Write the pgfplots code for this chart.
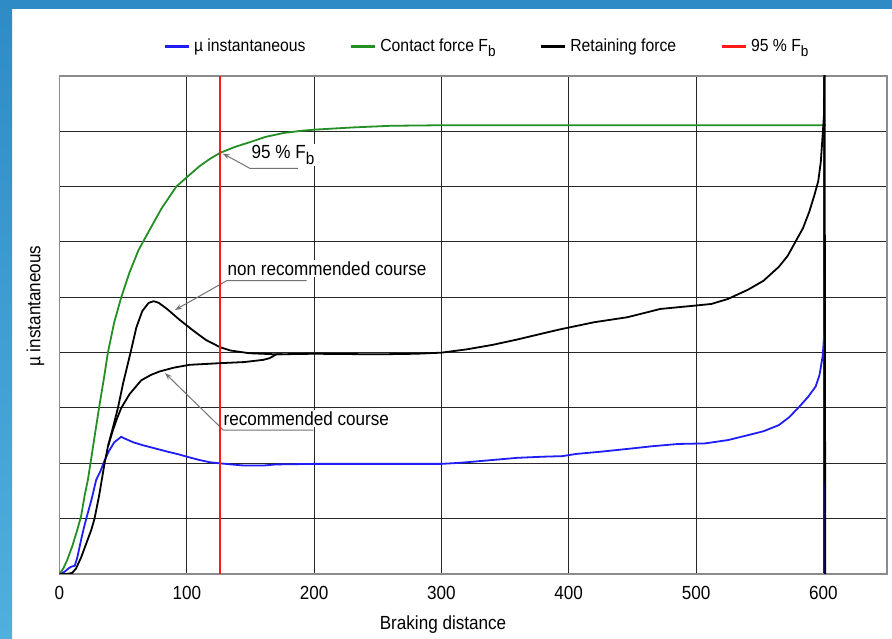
\documentclass[border=0pt]{standalone}
\usepackage{fontspec}
\setmainfont{Liberation Sans}[FakeStretch=0.9]
\usepackage{pgfplots}
\pgfplotsset{compat=1.18}
\usetikzlibrary{arrows.meta}

\definecolor{slideblue}{HTML}{2E8BC6}
\definecolor{slideblue2}{HTML}{4FB0DE}
\definecolor{cblue}{HTML}{1F1FF5}
\definecolor{cgreen}{HTML}{248F24}
\definecolor{cred}{HTML}{FF1A1A}

\begin{document}
\begin{tikzpicture}
\fill[white] (0,0) rectangle (892pt,639pt);
\shade[top color=slideblue, bottom color=slideblue2] (0,0) rectangle (12pt,639pt);
\fill[slideblue] (0,630pt) rectangle (892pt,639pt);
\begin{axis}[
  at={(59.5pt,65pt)}, anchor=south west, scale only axis,
  width=827.5pt, height=498pt,
  xmin=0, xmax=650, ymin=0, ymax=9,
  xtick={0,100,...,600}, ytick={0,1,...,9}, yticklabels={},
  grid=major, major grid style={black!85, line width=1pt},
  axis line style={black!45, line width=1.8pt},
  tick style={draw=none},
  /pgf/number format/assume math mode=true,
  xticklabel style={font=\fontsize{19}{19}\selectfont, yshift=-9pt},
  xlabel={Braking distance}, ylabel={µ instantaneous},
  xlabel style={font=\fontsize{19}{19}\selectfont, at={(axis description cs:0.4635,-0.1024)}, anchor=center},
  ylabel style={font=\fontsize{19}{19}\selectfont, at={(axis description cs:-0.029,0.538)}, anchor=center},
  legend style={draw=none, fill=none, at={(axis description cs:0.1215,1.06)}, anchor=west,
    font=\fontsize{17.5}{17.5}\selectfont, legend columns=4,
    /tikz/every odd column/.append style={column sep=2pt},
    /tikz/every even column/.append style={column sep=42pt}},
  legend image code/.code={\draw[#1, line width=2.8pt] (0pt,0pt) -- (24pt,0pt);},
  clip=true,
]
% annotations (drawn before curves)
\node[fill=white, inner sep=1.5pt, anchor=west, font=\fontsize{19}{19}\selectfont] at (axis cs:149.6,7.57) {95 \% F\raisebox{-0.55ex}{\fontsize{17}{17}\selectfont b}};
\node[fill=white, inner sep=1.5pt, anchor=west, font=\fontsize{19}{19}\selectfont] at (axis cs:130.8,5.52) {non recommended course};
\node[fill=white, inner sep=1.5pt, anchor=west, font=\fontsize{19}{19}\selectfont] at (axis cs:127.6,2.81) {recommended course};
\draw[black!55, line width=1pt, -{Stealth[open, length=7pt, width=5pt]}] (axis cs:187.3,7.33) -- (axis cs:149.6,7.33) -- (axis cs:128.2,7.60);
\draw[black!55, line width=1pt, -{Stealth[open, length=7pt, width=5pt]}] (axis cs:194.2,5.30) -- (axis cs:131.3,5.30) -- (axis cs:90.7,4.77);
\draw[black!55, line width=1pt, -{Stealth[open, length=7pt, width=5pt]}] (axis cs:199.4,2.60) -- (axis cs:128.7,2.60) -- (axis cs:82.9,3.63);

\addplot[cblue, line width=1.8pt] coordinates {
(0,0) (4,0.04) (7,0.1) (9,0.13) (12,0.15) (14,0.3) (17,0.62) (19,0.82) (21,1.0) (25,1.33) (28.8,1.7) (32,1.85) (35.4,2.05) (38.8,2.22) (43,2.38) (48.5,2.48) (52,2.44) (58,2.38) (65,2.33) (75,2.27) (85,2.21) (94,2.16) (100,2.12) (110,2.06) (118,2.02) (126,2.0) (135,1.98) (145,1.96) (160,1.96) (170,1.98) (200,1.99) (250,1.99) (300,1.99) (315,2.01) (330,2.04) (345,2.07) (360,2.1) (380,2.12) (395,2.13) (406,2.17) (425,2.21) (446,2.26) (466,2.31) (486,2.35) (507,2.36) (525,2.42) (541,2.51) (553,2.58) (565,2.69) (573,2.83) (581,3.02) (588,3.2) (594,3.39) (597,3.6) (599.5,3.94) (601,4.45) (601.3,0)
};
\addlegendentry{µ instantaneous}
\addplot[cgreen, line width=1.8pt] coordinates {
(0,0) (3,0.1) (6,0.25) (10,0.5) (14,0.8) (17,1.05) (20,1.45) (22.3,1.7) (25,2.1) (28,2.55) (31.4,3.05) (35,3.55) (38,4.0) (43,4.55) (48.5,5.0) (55,5.45) (62,5.85) (70.8,6.22) (80,6.6) (91.7,7.0) (100,7.17) (110,7.37) (118,7.5) (126,7.61) (138,7.72) (149,7.8) (162,7.9) (176,7.97) (190,8.01) (200,8.03) (230,8.07) (260,8.1) (300,8.11) (602,8.11)
};
\addlegendentry{Contact force F\raisebox{-0.55ex}{\fontsize{15}{15}\selectfont b}}
\addplot[black, line width=1.8pt] coordinates {
(0,0) (6,0) (10,0.02) (13,0.1) (17,0.3) (21,0.55) (25,0.8) (27.5,1.0) (31,1.4) (35.4,2.0) (38,2.3) (42,2.65) (45.9,3.0) (50,3.45) (55.8,4.0) (60.3,4.45) (65,4.75) (70,4.9) (74,4.93) (78,4.9) (85,4.78) (94,4.6) (105,4.4) (115,4.23) (126,4.1) (134,4.04) (149,3.99) (170,3.97) (200,3.98) (250,3.97) (280,3.98) (300,4.0) (320,4.06) (340,4.14) (360,4.24) (380,4.35) (393,4.42) (420,4.55) (446,4.64) (472,4.79) (499,4.85) (512,4.88) (525,4.97) (541,5.14) (553,5.3) (565,5.55) (572,5.75) (578,6.0) (584,6.25) (589,6.55) (593,6.85) (596,7.1) (598,7.45) (599,7.78) (600.5,8.3) (601,9.5) (601.5,0)
};
\addlegendentry{Retaining force}
\addplot[cred, line width=1.4pt] coordinates {(126,0) (126,9)};
\addlegendentry{95 \% F\raisebox{-0.55ex}{\fontsize{15}{15}\selectfont b}}
\addplot[black, line width=1.8pt, forget plot] coordinates {
(38,2.3) (42,2.6) (45,2.8) (48.5,3.0) (55,3.25) (64.2,3.5) (72,3.6) (78.6,3.66) (90,3.73) (102,3.78) (126,3.81) (145,3.83) (160,3.87) (165,3.9) (170.4,3.97) (175,3.97)
};
\end{axis}
\pgfresetboundingbox
\useasboundingbox (0,0) rectangle (892pt,639pt);
\end{tikzpicture}
\end{document}
